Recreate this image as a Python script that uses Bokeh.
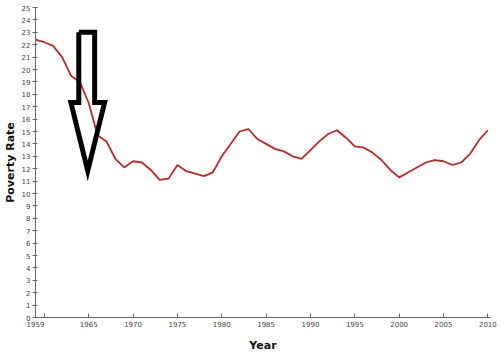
from bokeh.plotting import figure
from bokeh.models import FixedTicker, Range1d
from bokeh.embed import file_html
from bokeh.resources import INLINE

years = list(range(1959, 2011))
poverty_rate = [22.4, 22.2, 21.9, 21.0, 19.5, 19.0, 17.3, 14.7, 14.2, 12.8,
                12.1, 12.6, 12.5, 11.9, 11.1, 11.2, 12.3, 11.8, 11.6, 11.4,
                11.7, 13.0, 14.0, 15.0, 15.2, 14.4, 14.0, 13.6, 13.4, 13.0,
                12.8, 13.5, 14.2, 14.8, 15.1, 14.5, 13.8, 13.7, 13.3, 12.7,
                11.9, 11.3, 11.7, 12.1, 12.5, 12.7, 12.6, 12.3, 12.5, 13.2,
                14.3, 15.1]

x_ticks = [1959, 1960, 1965, 1970, 1975, 1980, 1985, 1990, 1995, 2000, 2005, 2010]
y_ticks = list(range(0, 26))

# annotation arrow outline (year, rate)
arrow_x = [1963.88, 1963.88, 1962.99, 1964.89, 1966.79, 1965.67, 1965.67, 1963.88]
arrow_y = [23.0, 17.33, 17.33, 11.82, 17.33, 17.33, 23.0, 23.0]

p = figure(width=503, height=356, output_backend="svg", toolbar_location=None,
           x_range=Range1d(1959, 2010.3), y_range=Range1d(0, 25),
           min_border_left=33, min_border_right=13, min_border_top=7,
           min_border_bottom=39)
p.outline_line_color = None
p.background_fill_color = "white"
p.border_fill_color = "white"
p.xgrid.visible = False
p.ygrid.visible = False

p.line(years, poverty_rate, line_color="#c42626", line_width=1.8)
p.line(arrow_x, arrow_y, line_color="black", line_width=5, line_join="miter")

for ax in (p.xaxis[0], p.yaxis[0]):
    ax.axis_line_color = "#666666"
    ax.major_tick_line_color = "#666666"
    ax.minor_tick_line_color = None
    ax.major_label_text_font = "DejaVu Sans"
    ax.major_label_text_font_size = "7px"
    ax.major_label_text_color = "#444444"
    ax.axis_label_text_font = "DejaVu Sans"
    ax.axis_label_text_font_style = "bold"
    ax.axis_label_text_font_size = "11px"
    ax.axis_label_text_color = "#111111"

p.xaxis.ticker = FixedTicker(ticks=x_ticks)
p.xaxis.major_label_overrides = {1960: ""}
p.xaxis.major_tick_in = 4
p.xaxis.major_tick_out = 0
p.xaxis.major_label_standoff = 3
p.xaxis.axis_label = "Year"
p.xaxis.axis_label_standoff = 9

p.yaxis.ticker = FixedTicker(ticks=y_ticks)
p.yaxis.major_tick_in = 2
p.yaxis.major_tick_out = 3
p.yaxis.major_label_standoff = 2
p.yaxis.axis_label = "Poverty Rate"
p.yaxis.axis_label_standoff = 2

open("out.html", "w").write(file_html(p, INLINE))
